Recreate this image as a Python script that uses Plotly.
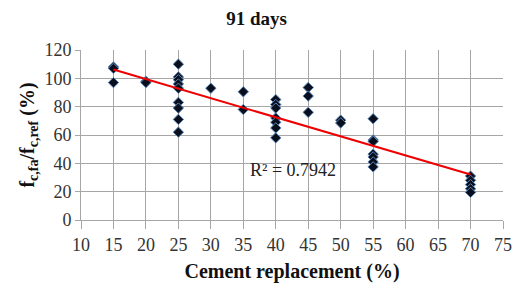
import numpy as np
import plotly.graph_objects as go

# Data
replacement = [15, 15, 15,
               20, 20,
               25, 25, 25, 25, 25, 25, 25, 25, 25,
               30,
               35, 35,
               40, 40, 40, 40, 40, 40, 40,
               45, 45, 45,
               50, 50,
               55, 55, 55, 55, 55, 55, 55,
               70, 70, 70, 70, 70]
strength_ratio = [108, 107, 97,
                  98, 97,
                  110, 101, 99, 96, 93, 83, 79, 71, 62,
                  93,
                  90.5, 78,
                  85, 81.5, 79, 72, 69, 65, 58,
                  93.5, 87.5, 76,
                  70.5, 68.5,
                  71.5, 56.5, 55.5, 46.5, 44.5, 41, 37.5,
                  31, 28, 25, 22, 19.5]
x_ticks = [10, 15, 20, 25, 30, 35, 40, 45, 50, 55, 60, 65, 70, 75]
y_ticks = [0, 20, 40, 60, 80, 100, 120]
r2_label = "R² = 0.7942"

xa = np.array(replacement, dtype=float)
ya = np.array(strength_ratio, dtype=float)
slope, intercept = np.polyfit(xa, ya, 1)
trend_x = [xa.min(), xa.max()]
trend_y = [slope * v + intercept for v in trend_x]

SERIF = "Liberation Serif, Times New Roman, serif"
GRID = "#a6a6a6"
TICKFONT = dict(family=SERIF, size=18, color="#333")

fig = go.Figure()
fig.add_trace(go.Scatter(
    x=replacement, y=strength_ratio, mode="markers",
    marker=dict(symbol="diamond", size=8, color="#0a0f1e",
                line=dict(color="#5b86b8", width=1)),
    showlegend=False, hoverinfo="x+y"))
fig.add_trace(go.Scatter(
    x=trend_x, y=trend_y, mode="lines",
    line=dict(color="#ee0000", width=2), showlegend=False))

fig.add_annotation(x=42.6, y=35.5, text=r2_label, showarrow=False,
                   font=dict(family=SERIF, size=18, color="#222"))

fig.update_layout(
    width=513, height=289,
    margin=dict(l=81, r=10, t=50, b=69),
    paper_bgcolor="white", plot_bgcolor="white",
    title=dict(text="<b>91 days</b>", x=0.5, xanchor="center",
               y=1 - 18 / 289, yanchor="middle",
               font=dict(family=SERIF, size=19, color="#111")),
    font=dict(family=SERIF, size=18, color="#333"),
    xaxis=dict(range=[10, 75], tickvals=x_ticks, showgrid=True,
               gridcolor=GRID, gridwidth=1, zeroline=False,
               showline=True, linecolor=GRID, linewidth=1,
               ticks="outside", ticklen=8, tickcolor=GRID, automargin=False,
               tickfont=TICKFONT,
               title=dict(text="<b>Cement replacement (%)</b>", standoff=10,
                          font=dict(family=SERIF, size=20, color="#111"))),
    yaxis=dict(range=[0, 120], tickvals=y_ticks, ticksuffix="\u2004",
               showgrid=True,
               gridcolor=GRID, gridwidth=1, zeroline=False,
               showline=True, linecolor=GRID, linewidth=1,
               ticks="outside", ticklen=5, tickcolor=GRID, automargin=False,
               tickfont=TICKFONT,
               title=dict(text="<b>f<sub>c,fa</sub>/f<sub>c,ref</sub> (%)</b>",
                          standoff=4,
                          font=dict(family=SERIF, size=20, color="#111"))),
)
fig.write_html(
    "out.html",
    config={"displayModeBar": False},
    post_script="document.body.style.margin='0';document.body.style.overflow='hidden';")
